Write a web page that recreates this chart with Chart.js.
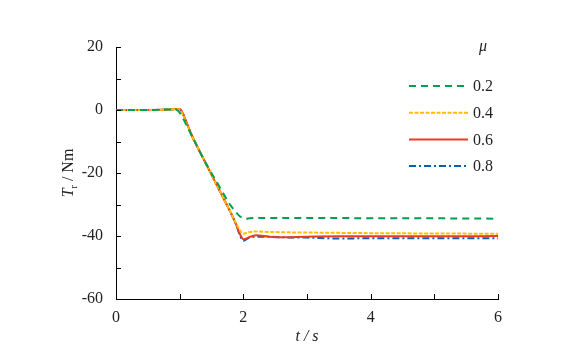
<!DOCTYPE html>
<html>
<head>
<meta charset="utf-8">
<script src="https://cdn.jsdelivr.net/npm/chart.js@4/dist/chart.umd.min.js"></script>
<style>
html,body{margin:0;padding:0;background:#fff;}
#wrap{width:566px;height:357px;position:relative;}
</style>
</head>
<body>
<div id="wrap"><canvas id="c" width="566" height="357"></canvas></div>
<script>
const times = [0, 0.5, 0.9, 0.95, 1.0, 1.05, 1.1, 1.2, 1.4, 1.6, 1.7, 1.8, 1.9, 1.95, 2.0, 2.05, 2.1, 2.2, 2.4, 2.6, 3.0, 3.5, 4.0, 5.0, 6.0];
const mu02 = [0, 0, 0.2, 0.1, -0.8, -2.5, -4.5, -8.5, -16.5, -23.5, -27, -30.3, -32.8, -33.8, -34.3, -34.5, -34.4, -34.3, -34.3, -34.3, -34.3, -34.3, -34.4, -34.4, -34.5];
const mu04 = [0, 0, 0.2, 0.3, 0.2, -1.5, -4, -8.5, -16.5, -24.5, -28.5, -32.5, -36.5, -38.3, -39.3, -39, -38.7, -38.6, -38.7, -38.8, -38.9, -39, -39.1, -39.2, -39.3];
const mu06 = [0, 0, 0.2, 0.3, 0.3, -1, -3.5, -8.5, -16.5, -24.5, -28.5, -32.5, -37, -39.5, -41, -40.8, -40.3, -39.8, -40.2, -40.4, -40.2, -40.1, -40.1, -40.1, -40];
const mu08 = [0, 0, 0.2, 0.3, 0.2, -1.2, -3.7, -8.5, -16.5, -24.5, -28.5, -32.5, -37, -40, -41.5, -41, -40.5, -40.2, -40.2, -40.4, -40.5, -40.8, -40.7, -40.7, -40.7];
const seriesLabels = ['0.2', '0.4', '0.6', '0.8'];
const yTickValues = [20, 0, -20, -40, -60];
const xTickValues = [0, 2, 4, 6];

const SERIF = "'Liberation Serif', serif";
const toPts = arr => arr.map((v, i) => ({x: times[i], y: v}));

const styles = [
  {color: '#00a051', dash: [7, 5]},
  {color: '#ffbf00', dash: [4, 1.5]},
  {color: '#ee3a24', dash: []},
  {color: '#0562b2', dash: [7, 3, 2, 3]}
];
const allSeries = [mu02, mu04, mu06, mu08];

const datasets = allSeries.map((s, i) => ({
  label: seriesLabels[i],
  data: toPts(s),
  borderColor: styles[i].color,
  borderDash: styles[i].dash,
  borderWidth: 2,
  pointRadius: 0,
  fill: false,
  cubicInterpolationMode: 'monotone'
}));

const decor = {
  id: 'decor',
  afterDraw(chart) {
    const ctx = chart.ctx;
    const xs = chart.scales.x, ys = chart.scales.y;
    ctx.save();
    ctx.strokeStyle = '#000';
    ctx.lineWidth = 1;
    for (let v = 20; v >= -60; v -= 10) {
      const py = Math.round(ys.getPixelForValue(v)) + 0.5;
      ctx.beginPath();
      ctx.moveTo(xs.left, py);
      ctx.lineTo(xs.left + 5, py);
      ctx.stroke();
    }
    for (let v = 1; v <= 6; v += 1) {
      const px = Math.round(xs.getPixelForValue(v)) + 0.5;
      ctx.beginPath();
      ctx.moveTo(px, ys.bottom);
      ctx.lineTo(px, ys.bottom - 5);
      ctx.stroke();
    }
    ctx.fillStyle = '#222';
    ctx.textBaseline = 'alphabetic';
    ctx.font = 'italic 16px ' + SERIF;
    ctx.textAlign = 'center';
    ctx.fillText('t / s', (xs.left + xs.right) / 2, 341);
    ctx.save();
    ctx.translate(73, (ys.top + ys.bottom) / 2);
    ctx.rotate(-Math.PI / 2);
    const partT = 'T', partR = 'r', partRest = ' / Nm';
    ctx.font = 'italic 16px ' + SERIF;
    const wT = ctx.measureText(partT).width;
    ctx.font = '10px ' + SERIF;
    const wR = ctx.measureText(partR).width;
    ctx.font = '16px ' + SERIF;
    const wRest = ctx.measureText(partRest).width;
    let x0 = -(wT + wR + wRest) / 2;
    ctx.textAlign = 'left';
    ctx.font = 'italic 16px ' + SERIF;
    ctx.fillText(partT, x0, 0);
    x0 += wT;
    ctx.font = '10px ' + SERIF;
    ctx.fillText(partR, x0, 4);
    x0 += wR;
    ctx.font = '16px ' + SERIF;
    ctx.fillText(partRest, x0, 0);
    ctx.restore();
    ctx.font = 'italic 16px ' + SERIF;
    ctx.textAlign = 'left';
    ctx.fillText('μ', 479, 51);
    ctx.font = '16px ' + SERIF;
    chart.data.datasets.forEach((ds, i) => {
      const ly = 86 + i * 26.7;
      ctx.save();
      ctx.strokeStyle = ds.borderColor;
      ctx.lineWidth = 2;
      ctx.setLineDash(ds.borderDash);
      ctx.beginPath();
      ctx.moveTo(409, ly);
      ctx.lineTo(468, ly);
      ctx.stroke();
      ctx.restore();
      ctx.fillStyle = '#222';
      ctx.textBaseline = 'middle';
      ctx.fillText(ds.label, 473, ly + 1);
    });
    ctx.restore();
  }
};

new Chart(document.getElementById('c'), {
  type: 'line',
  data: {datasets},
  options: {
    responsive: false,
    animation: false,
    events: [],
    layout: {padding: {left: 0, top: 47, right: 68, bottom: 0}},
    plugins: {legend: {display: false}, tooltip: {enabled: false}},
    scales: {
      x: {
        type: 'linear', min: 0, max: 6,
        afterFit(s) { s.height = 58; },
        afterBuildTicks(s) { s.ticks = xTickValues.map(v => ({value: v})); },
        grid: {display: false, drawTicks: false},
        border: {display: true, color: '#000', width: 1},
        ticks: {font: {family: SERIF, size: 16}, color: '#222', padding: 9, maxRotation: 0}
      },
      y: {
        type: 'linear', min: -60, max: 20,
        afterFit(s) { s.width = 116; },
        afterBuildTicks(s) { s.ticks = yTickValues.map(v => ({value: v})); },
        grid: {display: false, drawTicks: false},
        border: {display: true, color: '#000', width: 1},
        ticks: {font: {family: SERIF, size: 16}, color: '#222', padding: 13}
      }
    }
  },
  plugins: [decor]
});
</script>
</body>
</html>
